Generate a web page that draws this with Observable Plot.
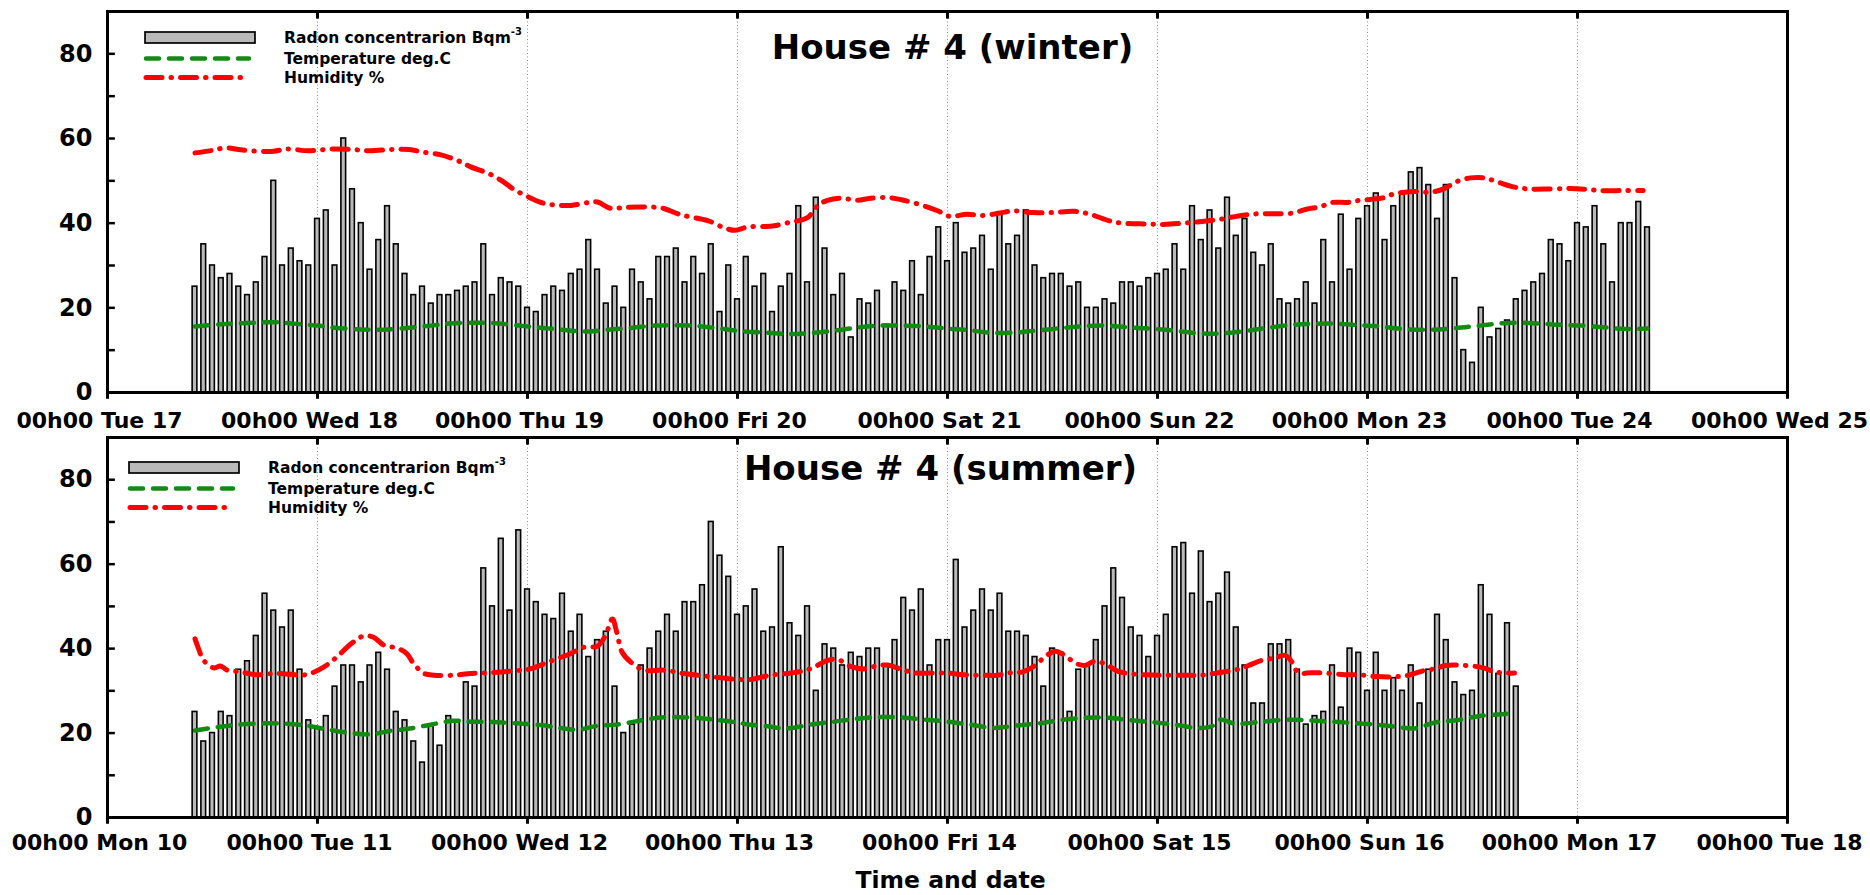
<!DOCTYPE html>
<html>
<head>
<meta charset="utf-8">
<script src="https://cdn.jsdelivr.net/npm/d3@7"></script>
<script src="https://cdn.jsdelivr.net/npm/@observablehq/plot@0.6"></script>
<style>
  html, body { margin: 0; padding: 0; background: #ffffff; }
  #chart { position: relative; width: 1870px; height: 895px; overflow: hidden; }
  #winter, #summer { position: absolute; left: 0; }
  #winter { top: 0; }
  #summer { top: 430px; }
</style>
</head>
<body>
<div id="chart"><div id="winter"></div><div id="summer"></div></div>
<script>
// Day labels along the time axis (one tick every 24 h)
const winterDayLabels = ["00h00 Tue 17", "00h00 Wed 18", "00h00 Thu 19", "00h00 Fri 20", "00h00 Sat 21",
  "00h00 Sun 22", "00h00 Mon 23", "00h00 Tue 24", "00h00 Wed 25"];
const summerDayLabels = ["00h00 Mon 10", "00h00 Tue 11", "00h00 Wed 12", "00h00 Thu 13", "00h00 Fri 14",
  "00h00 Sat 15", "00h00 Sun 16", "00h00 Mon 17", "00h00 Tue 18"];
const yTickLabels = [0, 20, 40, 60, 80];
const legendLabels = ["Radon concentrarion Bqm", "Temperature deg.C", "Humidity %"];
const radonUnitPower = "-3";
const panelTitles = ["House # 4 (winter)", "House # 4 (summer)"];
const axisTitle = "Time and date";

// Hourly radon readings, first reading at 10h00 of the first day
const firstHour = 10;
const winterRadon = [
  25, 35, 30, 27, 28, 25, 23, 26, 32, 50, 30, 34, 31, 30, 41, 43, 30, 60, 48, 40, 29, 36, 44, 35, 28, 23, 25, 21, 23, 23, 24, 25, 26, 35, 23,
  27, 26, 25, 20, 19, 23, 25, 24, 28, 29, 36, 29, 21, 25, 20, 29, 26, 22, 32, 32, 34, 26, 32, 28, 35, 19, 30, 22, 32, 25, 28, 19, 25, 28,
  44, 26, 46, 34, 23, 28, 13, 22, 21, 24, 16, 26, 24, 31, 23, 32, 39, 31, 40, 33, 34, 37, 29, 42, 35, 37, 43, 30, 27, 28, 28, 25, 26,
  20, 20, 22, 21, 26, 26, 25, 27, 28, 29, 35, 29, 44, 36, 43, 34, 46, 37, 41, 33, 30, 35, 22, 21, 22, 26, 21, 36, 26, 42, 29, 41, 44, 47, 36,
  44, 47, 52, 53, 49, 41, 49, 27, 10, 7, 20, 13, 15, 17, 22, 24, 26, 28, 36, 35, 31, 40, 39, 44, 35, 26, 40, 40, 45, 39
];
const summerRadon = [
  25, 18, 20, 25, 24, 35, 37, 43, 53, 49, 45, 49, 35, 23, 21, 24, 31, 36, 36, 32, 36, 39, 35, 25, 23, 18, 13, 22, 17, 24, 23,
  32, 31, 59, 50, 66, 49, 68, 54, 51, 48, 47, 53, 44, 48, 38, 42, 44, 31, 20, 22, 36, 40, 44, 48, 44, 51, 51, 55, 70, 62, 57, 48,
  50, 54, 44, 45, 64, 46, 43, 50, 30, 41, 40, 36, 39, 38, 40, 40, 36, 42, 52, 49, 54, 36, 42, 42, 61, 45, 49, 54, 49, 53, 44, 44,
  43, 38, 31, 40, 39, 25, 35, 36, 42, 50, 59, 52, 45, 43, 38, 43, 48, 64, 65, 53, 63, 51, 53, 58, 45, 36, 27, 27, 41, 41, 42, 35,
  22, 24, 25, 36, 26, 40, 39, 30, 39, 30, 33, 30, 36, 27, 35, 48, 42, 32, 29, 30, 55, 48, 34, 46, 31
];

// Temperature (deg.C) and humidity (%) readings as [hour, value]
const winterTemperature = [
  [10, 15.6], [13, 16.1], [16, 16.4], [19, 16.6], [21, 16.3], [24, 15.8], [26, 15.3], [29, 14.9], [31, 14.8], [34, 15.2],
  [37, 15.8], [39, 16.3], [42, 16.5], [44, 16.4], [47, 15.8], [49.5, 15.3], [52, 14.8], [54.5, 14.4], [57, 14.8], [60, 15.3],
  [62.5, 15.8], [65, 15.9], [67.5, 15.7], [70, 15.1], [72.5, 14.5], [75.5, 14.1], [78, 13.8], [80, 14.0], [83, 14.6], [85.5, 15.3],
  [88, 15.8], [91, 15.8], [93.5, 15.6], [96, 15.1], [98.5, 14.7], [101, 14.1], [104, 14.2], [106, 14.6], [109, 15.2], [111, 15.6],
  [114, 15.8], [116.5, 15.4], [119, 15.1], [122, 14.6], [124.5, 14.0], [127, 13.9], [129.5, 14.4], [132, 15.1], [135, 15.9], [137.5, 16.2],
  [140, 16.3], [143, 15.9], [145.5, 15.6], [147.5, 15.1], [150.5, 14.8], [153.5, 15.1], [156, 15.6], [158.5, 16.2], [161, 16.5], [163.5, 16.3],
  [166, 16.0], [168.5, 15.8], [171, 15.4], [173.5, 15.0], [176, 15.1]
];
const winterHumidity = [
  [10, 56.6], [12, 57.2], [13.5, 57.8], [15, 57.4], [17, 57.0], [19, 57.0], [20.5, 57.5], [23, 57.1], [25.5, 57.5], [28, 57.4],
  [30, 57.1], [32.5, 57.4], [34.5, 57.4], [36, 56.8], [38, 56.2], [40, 54.8], [41.5, 53.3], [43.8, 51.5], [45.3, 49.7], [46.5, 47.9],
  [48, 46.3], [49.5, 44.9], [51, 44.3], [53, 44.2], [55, 44.9], [56, 45.0], [57.5, 43.5], [59, 43.7], [61, 43.8], [63.3, 43.6],
  [65.2, 42.2], [66.3, 41.6], [68.6, 40.6], [70.5, 38.9], [71.7, 38.3], [73.2, 39.1], [75.1, 39.2], [76.2, 39.4], [78, 40.2], [80, 41.3],
  [81.2, 44.2], [82.3, 45.4], [83.8, 45.9], [85.7, 45.4], [87.2, 45.9], [89.5, 46.0], [91, 45.4], [93, 44.3], [94.8, 43.0], [96.3, 41.6],
  [98.2, 42.1], [100, 41.8], [102, 42.4], [103.5, 42.9], [105.8, 42.5], [108, 42.5], [110.5, 42.8], [112.3, 42.1], [114.6, 40.5], [116, 40.0],
  [118.8, 39.8], [120.7, 39.7], [123, 40.0], [124.5, 40.3], [126.8, 40.8], [129, 41.6], [131.3, 42.2], [133.3, 42.2], [135.5, 42.4], [137, 43.3],
  [138.6, 43.9], [140, 44.9], [141.6, 44.9], [142.8, 45.3], [144.3, 45.6], [145.8, 46.0], [147, 46.9], [149.3, 47.5], [151.2, 47.3], [152.7, 48.1],
  [154.3, 49.9], [155.8, 50.7], [157.3, 50.7], [158.5, 50.0], [160.4, 48.7], [162.3, 48.1], [165, 48.1], [167.2, 48.2], [169, 48.0], [170.7, 47.7],
  [173.3, 47.7], [175.5, 47.7]
];
const summerTemperature = [
  [10, 20.6], [12.5, 21.4], [15, 22.0], [18, 22.3], [20.5, 22.2], [23, 21.7], [25, 20.9], [27.5, 20.1], [30, 19.7], [32.3, 20.5],
  [34.6, 21.1], [37.2, 22.1], [39.5, 22.9], [41.5, 22.7], [44, 22.6], [46.8, 22.3], [49.5, 21.9], [51.8, 21.2], [53.7, 20.8], [56, 21.7],
  [58.2, 22.0], [60.2, 22.7], [62.1, 23.4], [64.3, 23.8], [67, 23.6], [69.7, 23.1], [72, 22.5], [73.1, 22.1], [75.4, 21.6], [77.7, 21.1],
  [80.3, 22.0], [83, 22.7], [85.7, 23.4], [88.3, 23.8], [90.6, 23.7], [93.3, 23.2], [96, 22.7], [98.6, 22.0], [101.3, 21.2], [103.5, 21.7],
  [106.4, 22.3], [109, 23.1], [111.7, 23.6], [114.4, 23.6], [116.7, 23.1], [119.3, 22.6], [122, 22.0], [124.7, 21.2], [126.2, 21.6], [127.1, 23.2],
  [128.9, 22.2], [131.5, 22.6], [134.2, 23.1], [136.5, 23.1], [137.6, 23.0], [139.9, 22.7], [142.2, 22.4], [144.9, 22.0], [147.2, 21.5], [149.4, 21.1],
  [151.7, 22.5], [154.4, 23.1], [156.7, 24.0], [159, 24.4], [160.9, 24.7]
];
const summerHumidity = [
  [10, 42.3], [10.4, 40.0], [11, 37.2], [12.2, 35.4], [12.9, 35.9], [13.7, 34.9], [15.2, 34.5], [17, 33.8], [19, 34.1], [21, 33.9],
  [22.1, 33.7], [23.2, 34.1], [24.7, 35.6], [26.2, 38.0], [27.8, 41.1], [29.3, 43.0], [30.4, 42.7], [31.6, 40.8], [33.1, 40.1], [34.2, 38.8],
  [35, 36.4], [36.2, 34.1], [37.3, 33.7], [39.6, 33.7], [41.5, 34.1], [43.8, 34.3], [46.8, 34.8], [48.3, 35.2], [50.6, 37.0], [52.9, 38.8],
  [54.4, 40.3], [56, 40.6], [56.9, 43.1], [57.7, 47.0], [58.2, 43.9], [58.8, 39.2], [59.8, 36.8], [61.3, 34.9], [63.6, 34.9], [65.9, 34.1],
  [68.2, 33.5], [70.1, 33.1], [72, 32.7], [73.5, 32.7], [75.8, 33.7], [78.4, 34.3], [80.3, 35.2], [82.3, 37.2], [83.4, 37.5], [84.9, 35.8],
  [86.4, 35.2], [87.9, 35.9], [89.1, 36.1], [90.6, 35.2], [92.1, 34.3], [94.1, 34.2], [96, 34.2], [97.9, 33.8], [100.1, 33.7], [101.7, 33.7],
  [103.2, 34.3], [104.6, 34.5], [106, 36.0], [107.1, 38.0], [108.3, 39.4], [109.4, 38.4], [110.6, 36.6], [111.7, 36.0], [112.8, 37.0], [114, 36.4],
  [115.5, 34.6], [116.7, 34.1], [118.6, 33.8], [120.5, 33.7], [123.1, 33.7], [125, 33.7], [127, 34.3], [129.2, 35.1], [130.4, 36.0], [131.9, 37.2],
  [133.4, 37.8], [134.6, 38.4], [135.3, 37.0], [136.1, 34.3], [137.6, 34.3], [139.2, 34.2], [141.4, 33.8], [143, 33.8], [144.9, 33.4], [146.8, 33.3],
  [148.7, 33.7], [150.6, 34.9], [151.7, 35.2], [152.9, 36.0], [155.2, 36.0], [157.1, 35.5], [158.6, 34.5], [160.1, 34.2], [160.8, 34.2]
];

const FONT = "'DejaVu Sans', 'Liberation Sans', sans-serif";
const BAR_FILL = "#b9b9b9";
const GREEN = "#138a13";
const RED = "#ff0000";
const TEMP_DASH = "13,10";
const HUM_DASH = "16,9,0.5,9";

// Legend block: swatches and labels, drawn in the plot's own SVG
function legendMark(left, top) {
  return () => {
    const g = d3.create("svg:g")
      .attr("transform", `translate(${left},${top})`)
      .attr("font-family", FONT)
      .attr("font-weight", "bold")
      .attr("font-size", 15.5)
      .attr("text-anchor", "start")
      .attr("fill", "black");
    g.append("rect").attr("x", 0).attr("y", -5.5).attr("width", 110).attr("height", 11)
      .attr("fill", BAR_FILL).attr("stroke", "black").attr("stroke-width", 1.7);
    g.append("line").attr("x1", 1).attr("x2", 104).attr("y1", 21).attr("y2", 21)
      .attr("stroke", GREEN).attr("stroke-width", 4.5).attr("stroke-dasharray", TEMP_DASH)
      .attr("stroke-linecap", "round");
    g.append("line").attr("x1", 1).attr("x2", 103).attr("y1", 40).attr("y2", 40)
      .attr("stroke", RED).attr("stroke-width", 5).attr("stroke-dasharray", HUM_DASH)
      .attr("stroke-linecap", "round");
    const rows = [0, 21, 40];
    legendLabels.forEach((label, i) => {
      const t = g.append("text").attr("x", 139).attr("y", rows[i]).attr("dy", "0.35em")
        .attr("text-anchor", "start").text(label);
      if (i === 0) t.append("tspan").attr("font-size", 10).attr("dy", "-0.75em").text(radonUnitPower);
    });
    return g.node();
  };
}

function panel(o) {
  const bars = o.radon.map((value, i) => ({hour: firstHour + i, value}));
  const points = pts => pts.map(([hour, value]) => ({hour, value}));
  const dayHours = o.dayLabels.map((_, i) => i * 24);
  const marks = [
    // dotted day separators
    Plot.ruleX(dayHours.slice(1, -1), {stroke: "#8a8a8a", strokeWidth: 1, strokeDasharray: "1,2.5"}),
    // radon bars
    Plot.rect(bars, {
      x1: d => d.hour - 0.27, x2: d => d.hour + 0.27, y1: 0, y2: "value",
      fill: BAR_FILL, stroke: "black", strokeWidth: 1.6
    }),
    // temperature and humidity
    Plot.line(points(o.temperature), {
      x: "hour", y: "value", curve: "catmull-rom",
      stroke: GREEN, strokeWidth: 4.5, strokeDasharray: TEMP_DASH, strokeLinecap: "round"
    }),
    Plot.line(points(o.humidity), {
      x: "hour", y: "value", curve: "catmull-rom",
      stroke: RED, strokeWidth: 5, strokeDasharray: HUM_DASH, strokeLinecap: "round"
    }),
    // tick marks: inward on the left and top, outward below
    Plot.ruleY(d3.range(10, 81, 10), {x1: 0, x2: 0.9, stroke: "black", strokeWidth: 2.5}),
    Plot.ruleX(dayHours, {y1: 90, y2: 88.2, stroke: "black", strokeWidth: 3}),
    Plot.ruleX(dayHours, {y1: 0, y2: -1.6, stroke: "black", strokeWidth: 3}),
    // tick labels
    Plot.text(yTickLabels, {
      y: d => d, text: d => String(d), frameAnchor: "left", dx: -15,
      textAnchor: "end", lineAnchor: "middle", fontSize: 24, fontWeight: "bold"
    }),
    Plot.text(dayHours, {
      x: d => d, text: (d, i) => o.dayLabels[i], frameAnchor: "bottom", dx: -8, dy: o.xLabelDy,
      textAnchor: "middle", lineAnchor: "middle", fontSize: 22, fontWeight: "bold"
    }),
    Plot.frame({stroke: "black", strokeWidth: 3}),
    Plot.text([o.title], {
      frameAnchor: "top", dx: o.titleDx, dy: o.titleDy,
      textAnchor: "middle", lineAnchor: "middle", fontSize: 34, fontWeight: "bold"
    }),
    legendMark(o.legendLeft, o.legendTop)
  ];
  if (o.axisLabel) {
    marks.push(Plot.text([o.axisLabel], {
      frameAnchor: "bottom", dy: 63, dx: 3, textAnchor: "middle", lineAnchor: "middle",
      fontSize: 23.5, fontWeight: "bold"
    }));
  }
  return Plot.plot({
    width: 1870,
    height: o.height,
    marginLeft: 107,
    marginRight: 83,
    marginTop: o.marginTop,
    marginBottom: o.marginBottom,
    style: {fontFamily: FONT, fontWeight: "bold", fontSize: "22px", color: "black", background: "transparent", overflow: "visible"},
    x: {domain: [0, 192], axis: null},
    y: {domain: [0, 90], axis: null},
    marks
  });
}

document.getElementById("winter").append(panel({
  radon: winterRadon, temperature: winterTemperature, humidity: winterHumidity,
  dayLabels: winterDayLabels, title: panelTitles[0],
  height: 437, marginTop: 11, marginBottom: 45,
  xLabelDy: 28, titleDx: 5, titleDy: 37,
  legendLeft: 145, legendTop: 37.5
}));

document.getElementById("summer").append(panel({
  radon: summerRadon, temperature: summerTemperature, humidity: summerHumidity,
  dayLabels: summerDayLabels, title: panelTitles[1],
  height: 465, marginTop: 7, marginBottom: 78,
  xLabelDy: 25, titleDx: -7, titleDy: 32,
  legendLeft: 129, legendTop: 37.5,
  axisLabel: axisTitle
}));
</script>
</body>
</html>
